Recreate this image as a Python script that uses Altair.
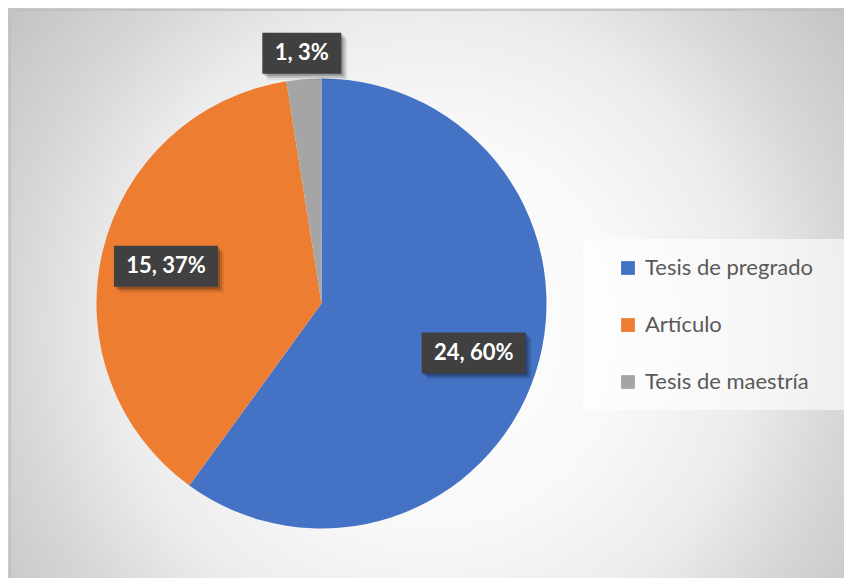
import altair as alt
import pandas as pd

# ---- data ----
categories = ["Tesis de pregrado", "Artículo", "Tesis de maestría"]
counts = [24, 15, 1]
pct_labels = ["60%", "37%", "3%"]
colors = ["#4472C4", "#ED7D31", "#A5A5A5"]

df = pd.DataFrame({
    "cat": categories,
    "value": counts,
    "pct": pct_labels,
    "idx": list(range(len(categories))),
})

# ---- layout (chart coords = page coords - 8) ----
W, H = 836, 570
CX, CY = 313.5, 295.5
R = 225
GX, GY, GH = 423, 322, 560  # background gradient centre / half size

bg_grad = alt.RadialGradient(
    gradient="radial", x1=0.5, y1=0.5, r1=0, x2=0.5, y2=0.5, r2=0.5,
    stops=[
        alt.GradientStop(offset=0, color="#ffffff"),
        alt.GradientStop(offset=0.36, color="#f8f8f8"),
        alt.GradientStop(offset=0.57, color="#ececec"),
        alt.GradientStop(offset=0.75, color="#d6d6d6"),
        alt.GradientStop(offset=0.95, color="#c3c3c3"),
        alt.GradientStop(offset=1, color="#c0c0c0"),
    ],
)

one = pd.DataFrame({"a": [0]})

bg = alt.Chart(one).mark_rect(clip=True, color=bg_grad).encode(
    x=alt.value(GX - GH), x2=alt.value(GX + GH),
    y=alt.value(GY - GH), y2=alt.value(GY + GH),
)

border = alt.Chart(one).mark_rect(clip=True, filled=False, stroke="#bfbfbf", strokeWidth=1.5).encode(
    x=alt.value(2), x2=alt.value(W + 30),
    y=alt.value(2), y2=alt.value(H + 30),
)

legend_box = alt.Chart(one).mark_rect(clip=True, color="white", opacity=0.6).encode(
    x=alt.value(575), x2=alt.value(W + 10),
    y=alt.value(231), y2=alt.value(402),
)

pie = alt.Chart(df).mark_arc(outerRadius=R).encode(
    theta=alt.Theta("value:Q", stack=True),
    order=alt.Order("idx:Q"),
    color=alt.Color(
        "cat:N",
        scale=alt.Scale(domain=categories, range=colors),
        sort=categories,
        legend=alt.Legend(
            title=None, orient="none", legendX=609, legendY=249,
            symbolType="square", symbolSize=190, symbolStrokeWidth=0,
            labelFont="Lato", labelFontSize=22, labelColor="#595959",
            labelLimit=400,
            rowPadding=35, labelOffset=6, padding=0,
        ),
    ),
    x=alt.value(CX), y=alt.value(CY),
)

lab = alt.Chart(df).transform_joinaggregate(
    total="sum(value)"
).transform_window(
    cum="sum(value)", sort=[alt.SortField("idx")]
).transform_calculate(
    mid="(datum.cum - datum.value/2) / datum.total * 2 * PI",
    r="datum.value / datum.total < 0.05 ? 251 : 160",
    label="datum.value + ', ' + datum.pct",
).transform_calculate(
    lx=f"{CX} + datum.r * sin(datum.mid)",
    ly=f"{CY} - datum.r * cos(datum.mid)",
    w="12.5 * length(datum.label) + 16.5",
).transform_calculate(
    bx1="datum.lx - datum.w/2", bx2="datum.lx + datum.w/2",
    by1="datum.ly - 20.5", by2="datum.ly + 20.5",
)

def box(dx, dy, color, opacity):
    return lab.transform_calculate(
        sx1=f"datum.bx1 + {dx}", sx2=f"datum.bx2 + {dx}",
        sy1=f"datum.by1 + {dy}", sy2=f"datum.by2 + {dy}",
    ).mark_rect(color=color, opacity=opacity).encode(
        x=alt.X("sx1:Q", scale=None, axis=None),
        x2="sx2:Q",
        y=alt.Y("sy1:Q", scale=None, axis=None),
        y2="sy2:Q",
    )

shadow1 = box(6, 6, "black", 0.08)
shadow2 = box(4, 4, "black", 0.15)
shadow3 = box(2, 2, "black", 0.2)
label_box = box(0, 0, "#404040", 1)

label_text = lab.mark_text(
    font="Lato", fontSize=22, fontWeight="bold", color="white",
    align="center", baseline="middle",
).encode(
    x=alt.X("lx:Q", scale=None, axis=None),
    y=alt.Y("ly:Q", scale=None, axis=None),
    text="label:N",
)

chart = alt.layer(
    bg, border, legend_box, pie, shadow1, shadow2, shadow3, label_box, label_text
).properties(
    width=W, height=H, padding=0, autosize="none", background="white",
).configure_view(stroke=None)

chart.save("out.html", embed_options={"renderer": "svg", "actions": False})
